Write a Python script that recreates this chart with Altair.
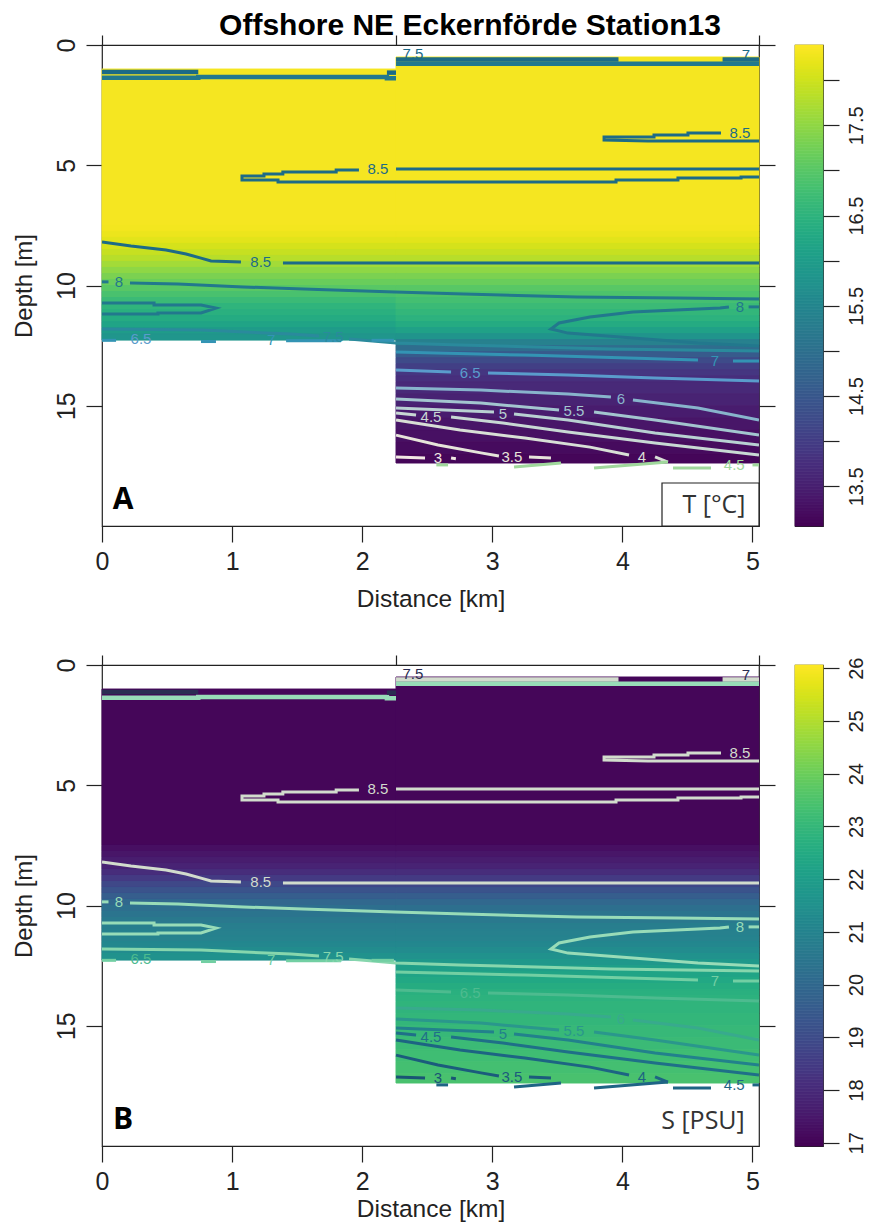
import altair as alt
import numpy as np
import pandas as pd

# ---------------- values ----------------
left_km = [0.0, 2.26]          # first station block (distance range)
right_km = [2.26, 5.05]        # second station block
station_km = [0.0, 2.26, 5.05]

edges_left = [1.0, 1.45, 7.5, 7.75, 8.0, 8.25, 8.5, 8.75, 9.0, 9.25, 9.5, 9.75,
              10.0, 10.25, 10.5, 10.75, 11.0, 11.25, 11.5, 11.75, 12.0, 12.27]
edges_right = [0.5, 0.87, 7.5, 7.75, 8.0, 8.25, 8.5, 8.75, 9.0, 9.25, 9.5, 9.75,
               10.0, 10.25, 10.5, 10.75, 11.0, 11.25, 11.5, 11.75, 12.0, 12.25,
               12.5, 12.75, 13.0, 13.25, 13.5, 13.75, 14.0, 14.5, 15.0, 15.5,
               16.0, 16.5, 17.0, 17.38]

T_left = [18.32, 18.32, 18.30, 18.24, 18.16, 18.06, 17.94, 17.82, 17.66, 17.49, 17.33,
          17.17, 17.01, 16.85, 16.69, 16.53, 16.43, 16.32, 16.16, 16.00, 15.84]
T_right = [18.32, 18.32, 18.30, 18.24, 18.16, 18.06, 17.94, 17.82, 17.66, 17.49, 17.33,
           17.17, 17.01, 16.90, 16.80, 16.69, 16.58, 16.48, 16.32, 16.11, 15.79, 15.36,
           14.94, 14.57, 14.25, 14.04, 13.88, 13.77, 13.66, 13.56, 13.45, 13.35, 13.27,
           13.19, 13.13]
S_left = [17.06, 17.06, 17.27, 17.45, 17.63, 17.81, 18.09, 18.45, 18.90, 19.26, 19.62,
          19.99, 20.26, 20.44, 20.62, 20.80, 20.89, 20.98, 21.16, 21.34, 21.53]
S_right = [17.06, 17.06, 17.27, 17.45, 17.63, 17.81, 18.09, 18.45, 18.90, 19.26, 19.62,
           19.99, 20.26, 20.44, 20.62, 20.80, 20.89, 20.98, 21.16, 21.34, 21.53, 21.80,
           22.07, 22.25, 22.43, 22.57, 22.70, 22.79, 22.88, 22.97, 23.06, 23.15, 23.24,
           23.34, 23.43]

T_domain = [13.06, 18.39]
S_domain = [16.94, 26.06]
T_ticks = [13.5, 14, 14.5, 15, 15.5, 16, 16.5, 17, 17.5, 18]
S_ticks = [17, 18, 19, 20, 21, 22, 23, 24, 25, 26]

# contour polylines: (level, distance [km], depth [m])
band_segments = [
    ("top", [0.0, 0.74], [1.12, 1.12]),
    ("8", [0.0, 0.74, 0.74, 2.19, 2.19, 2.26], [1.36, 1.36, 1.33, 1.33, 1.38, 1.38]),
    ("top", [2.19, 2.26], [1.15, 1.15]),
    ("8.5", [2.26, 3.97], [0.60, 0.60]),
    ("8.5", [4.77, 5.05], [0.60, 0.60]),
    ("8", [2.26, 5.05], [0.78, 0.78]),
]
line_segments = [
    ("8.5", [5.05, 2.26], [5.16, 5.16]),
    ("8.5", [1.975, 1.80, 1.80, 1.39, 1.39, 1.245, 1.245, 1.076, 1.076, 1.353, 1.353,
             3.951, 3.951, 4.427, 4.427, 4.912, 4.912, 5.05],
     [5.20, 5.20, 5.28, 5.28, 5.36, 5.36, 5.45, 5.45, 5.61, 5.61, 5.70, 5.70, 5.61,
      5.61, 5.53, 5.53, 5.49, 5.49]),
    ("8.5", [4.758, 4.504, 4.504, 4.243, 4.243, 3.859, 3.859, 4.197, 5.05],
     [3.66, 3.66, 3.74, 3.74, 3.83, 3.83, 3.95, 3.99, 3.99]),
    ("8.5", [0.0, 0.223, 0.492, 0.646, 0.761, 0.838, 1.068],
     [8.19, 8.36, 8.52, 8.69, 8.86, 8.98, 9.02]),
    ("8.5", [1.391, 5.05], [9.06, 9.06]),
    ("8", [0.0, 0.05], [9.85, 9.85]),
    ("8", [0.215, 0.584, 1.084, 1.545, 2.252, 2.782, 3.651, 4.412, 5.05],
     [9.90, 9.94, 10.06, 10.15, 10.27, 10.35, 10.48, 10.52, 10.56]),
    ("8", [4.819, 4.750, 4.081, 3.751, 3.513, 3.451, 3.582, 4.081, 4.581, 5.05],
     [10.89, 10.94, 11.10, 11.31, 11.56, 11.81, 11.98, 12.18, 12.39, 12.52]),
    ("8", [4.97, 5.05], [10.89, 10.89]),
    ("8", [0.0, 0.40, 0.40, 0.761, 0.876, 0.761, 0.43, 0.43, 0.0],
     [10.73, 10.73, 10.81, 10.81, 10.94, 11.14, 11.14, 11.19, 11.19]),
    ("7.5", [0.0, 0.761, 1.453, 1.668], [11.81, 11.85, 12.02, 12.10]),
    ("7.5", [1.899, 2.26, 2.752, 3.912, 5.05], [12.22, 12.39, 12.47, 12.64, 12.72]),
    ("7", [0.0, 0.108], [12.28, 12.28]),
    ("7", [0.761, 0.876], [12.33, 12.33]),
    ("7", [1.415, 1.837], [12.30, 12.30]),
    ("7", [2.072, 2.244], [12.28, 12.28]),
    ("7", [2.26, 3.251, 4.581], [12.77, 12.89, 13.10]),
    ("7", [4.85, 5.05], [13.14, 13.14]),
    ("6.5", [2.26, 2.683], [13.51, 13.60]),
    ("6.5", [2.967, 3.582, 4.251, 5.05], [13.64, 13.72, 13.85, 13.97]),
    ("6", [2.26, 2.913, 3.582, 3.912], [14.26, 14.35, 14.51, 14.64]),
    ("6", [4.081, 4.581, 5.05], [14.76, 15.09, 15.59]),
    ("5.5", [2.26, 2.913, 3.513], [14.72, 14.89, 15.18]),
    ("5.5", [3.782, 4.251, 5.05], [15.26, 15.59, 16.22]),
    ("5", [2.26, 3.013], [15.09, 15.26]),
    ("5", [3.167, 3.582, 4.251, 5.05], [15.34, 15.59, 16.13, 16.63]),
    ("4.5", [2.26, 2.414], [15.30, 15.38]),
    ("4.5", [2.683, 3.082, 3.582, 4.251, 5.05], [15.47, 15.72, 16.09, 16.55, 17.05]),
    ("4", [2.26, 2.752, 3.251, 3.751, 4.051], [15.59, 16.01, 16.34, 16.72, 17.05]),
    ("4", [4.251, 4.350], [17.13, 17.34]),
    ("3.5", [2.26, 2.583, 2.913, 3.051], [16.22, 16.63, 16.96, 17.09]),
    ("3.5", [3.282, 3.451], [17.13, 17.17]),
    ("3", [2.26, 2.483], [17.13, 17.17]),
    ("3", [2.683, 2.72], [17.17, 17.20]),
    ("edge", [2.57, 2.66], [17.46, 17.46]),
    ("edge", [3.167, 3.528], [17.55, 17.38]),
    ("edge", [3.782, 4.35], [17.59, 17.34]),
    ("edge", [4.389, 4.681], [17.59, 17.59]),
    ("edge", [5.0, 5.05], [17.46, 17.46]),
]
# contour labels: (text, level, distance, depth)
contour_labels = [
    ("7.5", "top", 2.39, 0.38), ("7", "top", 4.95, 0.40),
    ("8.5", "8.5", 2.12, 5.16), ("8.5", "8.5", 4.904, 3.66), ("8.5", "8.5", 1.22, 9.04),
    ("8", "8", 0.13, 9.85), ("8", "8", 4.904, 10.89), ("7.5", "7.5", 1.776, 12.14),
    ("6.5", "6.5", 0.30, 12.22), ("7", "7", 1.30, 12.26), ("7", "7", 4.712, 13.14),
    ("6.5", "6.5", 2.829, 13.64), ("6", "6", 3.989, 14.72), ("5.5", "5.5", 3.628, 15.22),
    ("5", "5", 3.082, 15.34), ("4.5", "4.5", 2.529, 15.47), ("4", "4", 4.151, 17.13),
    ("3.5", "3.5", 3.151, 17.13), ("3", "3", 2.583, 17.17), ("4.5", "edge", 4.86, 17.46),
]
level_keys = ["top", "8.5", "8", "7.5", "7", "6.5", "6", "5.5", "5", "4.5", "4", "3.5", "3", "edge"]
colors_A = ["#1b6a86", "#1d6b87", "#22788d", "#2a8a9c", "#3394b4", "#5a9ccc", "#88b4cc",
            "#a3c5cf", "#b8d0d2", "#c8d8d4", "#d8dfd6", "#e6e4da", "#f2e8e4", "#a0d89c"]
colors_B = ["#2b2d52", "#d2dccd", "#98dcb8", "#86d6ad", "#72cfa3", "#4dbb8f", "#38aa8d",
            "#2a978c", "#22818c", "#1f6f88", "#1d6483", "#1b5b7c", "#195474", "#1f6485"]

# ---------------- chart ----------------
FONT = "Liberation Sans"
W, H = 657, 481
xs = alt.Scale(domain=[0, 5.05], nice=False, zero=False)
ys = alt.Scale(domain=[0, 20], reverse=True, nice=False, zero=False)


def heat_df(vl, vr):
    rows = []
    for (x0, x1), edges, vals in ((left_km, edges_left, vl), (right_km, edges_right, vr)):
        for i, v in enumerate(vals):
            rows.append({"x": x0, "x2": x1, "y": edges[i], "y2": edges[i + 1], "v": v})
    return pd.DataFrame(rows)


def line_df(segs):
    rows = []
    for k, (lev, ds, zs) in enumerate(segs):
        for i, (d, z) in enumerate(zip(ds, zs)):
            rows.append({"seg": k, "i": i, "level": lev, "d": d, "z": z})
    return pd.DataFrame(rows)


lab_df = pd.DataFrame(contour_labels, columns=["text", "level", "d", "z"])


def main_panel(vl, vr, dom, colors, letter, legend_text, boxed, title_y):
    cs = alt.Scale(scheme="viridis", domain=dom, nice=False, zero=False)
    ls = alt.Scale(domain=level_keys, range=colors)
    heat = alt.Chart(heat_df(vl, vr)).mark_rect(strokeWidth=1.0).encode(
        x=alt.X("x:Q", scale=xs, axis=alt.Axis(
            values=[0, 1, 2, 3, 4, 5], format="d", tickSize=16, labelPadding=7,
            labelFontSize=25, labelFlush=False, domain=False, grid=False,
            title="Distance [km]", titleFontSize=24.5, titleX=W / 2, titleY=title_y,
            titleBaseline="middle", titleAlign="center")),
        x2="x2:Q",
        y=alt.Y("y:Q", scale=ys, axis=alt.Axis(
            values=[0, 5, 10, 15], format="d", tickSize=16, labelAngle=270,
            labelAlign="center", labelBaseline="middle", labelPadding=20,
            labelFontSize=25, labelFlush=False, domain=False, grid=False,
            title="Depth [m]", titleFontSize=24, titleAngle=270, titleX=-78,
            titleY=H / 2, titleBaseline="middle", titleAlign="center")),
        y2="y2:Q",
        fill=alt.Fill("v:Q", scale=cs, legend=None),
        stroke=alt.Stroke("v:Q", scale=cs, legend=None),
    )
    band = alt.Chart(line_df(band_segments)).mark_line(strokeWidth=4.5, clip=True).encode(
        x=alt.X("d:Q", scale=xs, axis=None), y=alt.Y("z:Q", scale=ys, axis=None),
        detail="seg:N", order="i:Q", color=alt.Color("level:N", scale=ls, legend=None))
    lines = alt.Chart(line_df(line_segments)).mark_line(strokeWidth=3, clip=True).encode(
        x=alt.X("d:Q", scale=xs, axis=None), y=alt.Y("z:Q", scale=ys, axis=None),
        detail="seg:N", order="i:Q", color=alt.Color("level:N", scale=ls, legend=None))
    labels = alt.Chart(lab_df).mark_text(font=FONT, fontSize=15, baseline="middle").encode(
        x=alt.X("d:Q", scale=xs, axis=None), y=alt.Y("z:Q", scale=ys, axis=None),
        text="text:N", color=alt.Color("level:N", scale=ls, legend=None))
    frame = alt.Chart(pd.DataFrame({"d": [0.0], "z": [0.0]})).mark_point(opacity=0).encode(
        x=alt.X("d:Q", scale=xs, axis=alt.Axis(orient="top", values=station_km, labels=False,
                                                tickSize=10, domain=False, grid=False, title=None)),
        y=alt.Y("z:Q", scale=ys, axis=alt.Axis(orient="right", values=[0, 5, 10, 15], labels=False,
                                                tickSize=16, domain=False, grid=False, title=None)))
    let = alt.Chart(pd.DataFrame({"t": [letter]})).mark_text(
        font="Open Sans", fontWeight="bold", fontSize=30, align="center", baseline="middle",
        color="black").encode(x=alt.value(21), y=alt.value(455), text="t:N")
    layers = [heat, band, lines, labels, frame, let]
    if boxed:
        box = alt.Chart(pd.DataFrame({"a": [0]})).mark_rect(
            fill="white", stroke="#222", strokeWidth=1.2).encode(
            x=alt.value(560), x2=alt.value(657), y=alt.value(438), y2=alt.value(481))
        layers.append(box)
    leg = alt.Chart(pd.DataFrame({"t": [legend_text]})).mark_text(
        font="Open Sans", fontSize=25, align="center", baseline="middle", color="#333").encode(
        x=alt.value(612 if boxed else 601), y=alt.value(460 if boxed else 456), text="t:N")
    layers.append(leg)
    return alt.layer(*layers).resolve_axis(x="independent", y="independent").properties(
        width=W, height=H)


def colorbar(dom, ticks, expr=None):
    e = np.linspace(dom[0], dom[1], 161)
    cb = pd.DataFrame({"v0": e[:-1], "v1": e[1:], "vm": (e[:-1] + e[1:]) / 2})
    cs = alt.Scale(scheme="viridis", domain=dom, nice=False, zero=False)
    ax = dict(orient="right", values=ticks, labelAngle=270, labelAlign="center",
              labelBaseline="middle", labelPadding=17, labelFontSize=20, tickSize=16,
              domain=False, grid=False, title=None, labelFlush=False, labelOverlap=False)
    if expr:
        ax["labelExpr"] = expr
    return alt.Chart(cb).mark_rect(strokeWidth=0.7).encode(
        x=alt.value(0), x2=alt.value(28),
        y=alt.Y("v0:Q", scale=alt.Scale(domain=dom, nice=False, zero=False), axis=alt.Axis(**ax)),
        y2="v1:Q",
        fill=alt.Fill("vm:Q", scale=cs, legend=None),
        stroke=alt.Stroke("vm:Q", scale=cs, legend=None),
    ).properties(width=28, height=H)


panelA = main_panel(T_left, T_right, T_domain, colors_A, "A", "T [°C]", True, 73)
panelB = main_panel(S_left, S_right, S_domain, colors_B, "B", "S [PSU]", False, 63)
cbA = colorbar(T_domain, T_ticks, "datum.value % 1 == 0 ? '' : format(datum.value, '.1f')")
cbB = colorbar(S_domain, S_ticks)

rowA = alt.hconcat(panelA, cbA, spacing=17)
rowB = alt.hconcat(panelB, cbB, spacing=17)

chart = alt.vconcat(rowA, rowB, spacing=41).resolve_scale(
    fill="independent", stroke="independent", color="independent"
).properties(
    title=alt.TitleParams("Offshore NE Eckernförde Station13", font=FONT, fontSize=30,
                          fontWeight="bold", color="black", anchor="middle", dx=31, offset=-7),
    padding={"left": 3, "top": 2, "right": -2, "bottom": 0},
).configure_view(stroke="#222", strokeWidth=1.2).configure_axis(
    labelFont=FONT, titleFont=FONT, labelColor="#222", titleColor="#222",
    tickColor="#222", tickWidth=1.2, titleFontWeight="normal")

chart.save("out.html", embed_options={"renderer": "svg", "actions": False})
